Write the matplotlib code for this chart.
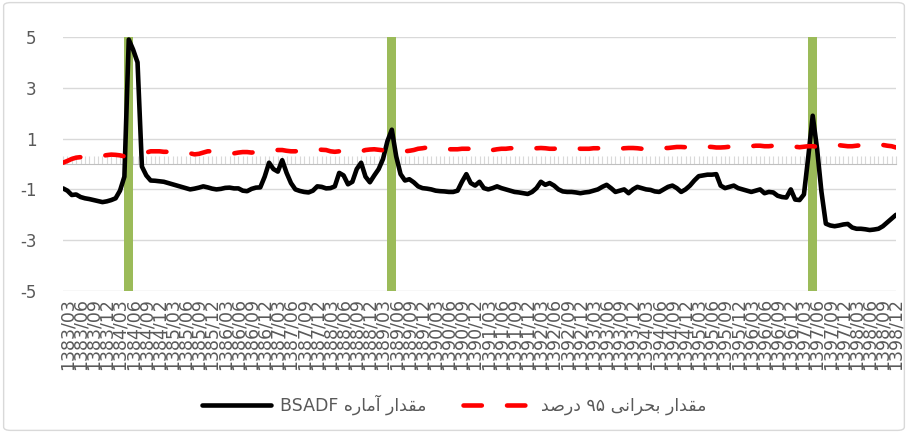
import matplotlib
matplotlib.use('Agg')
import matplotlib.pyplot as plt
from matplotlib.patches import FancyBboxPatch

plt.rcParams['font.family'] = ['DejaVu Sans']
plt.rcParams['axes.unicode_minus'] = False

# monthly categories 1383/02 .. 1398/12
months = []
for year in range(1383, 1399):
    for m in range(1, 13):
        if year == 1383 and m < 2:
            continue
        months.append('%d/%02d' % (year, m))

bsadf = [
    -0.96, -1.05, -1.22, -1.20, -1.30, -1.35, -1.38, -1.42, -1.46, -1.50,
    -1.47, -1.42, -1.35, -1.05, -0.50, 4.90, 4.50, 4.00, -0.10, -0.45,
    -0.65, -0.66, -0.68, -0.70, -0.75, -0.80, -0.85, -0.90, -0.95, -1.00,
    -0.97, -0.93, -0.88, -0.92, -0.97, -1.00, -0.98, -0.94, -0.93, -0.96,
    -0.96, -1.05, -1.07, -0.98, -0.93, -0.92, -0.50, 0.05, -0.20, -0.30,
    0.15, -0.35, -0.75, -1.00, -1.06, -1.10, -1.12, -1.05, -0.88, -0.90,
    -0.96, -0.95, -0.88, -0.35, -0.45, -0.80, -0.70, -0.20, 0.05, -0.50,
    -0.72, -0.45, -0.20, 0.20, 0.90, 1.35, 0.30, -0.40, -0.65, -0.60,
    -0.72, -0.88, -0.95, -0.97, -1.00, -1.05, -1.07, -1.08, -1.10, -1.10,
    -1.05, -0.70, -0.40, -0.75, -0.85, -0.70, -0.95, -1.00, -0.95, -0.88,
    -0.95, -1.00, -1.05, -1.10, -1.12, -1.15, -1.18, -1.10, -0.95, -0.70,
    -0.82, -0.75, -0.85, -1.00, -1.08, -1.10, -1.10, -1.12, -1.15, -1.12,
    -1.10, -1.05, -1.00, -0.90, -0.82, -0.95, -1.10, -1.05, -1.00, -1.15,
    -1.00, -0.90, -0.95, -1.00, -1.02, -1.08, -1.10, -1.00, -0.90, -0.85,
    -0.95, -1.10, -1.00, -0.85, -0.65, -0.48, -0.45, -0.42, -0.42, -0.40,
    -0.85, -0.95, -0.90, -0.85, -0.95, -1.00, -1.05, -1.10, -1.05, -1.00,
    -1.15, -1.10, -1.12, -1.25, -1.30, -1.32, -1.00, -1.40, -1.42, -1.20,
    0.30, 1.90, 0.60, -1.10, -2.35, -2.42, -2.45, -2.42, -2.38, -2.36,
    -2.50, -2.55, -2.55, -2.57, -2.60, -2.58, -2.55, -2.45, -2.30, -2.15,
    -2.00,
]

critical_95 = [
    0.05, 0.12, 0.20, 0.25, 0.27, 0.25, 0.28, 0.30, 0.30, 0.32,
    0.35, 0.37, 0.36, 0.34, 0.30, 0.32, 0.35, 0.37, 0.42, 0.45,
    0.50, 0.50, 0.50, 0.48, 0.48, 0.50, 0.50, 0.48, 0.45, 0.42,
    0.38, 0.40, 0.45, 0.50, 0.50, 0.50, 0.48, 0.45, 0.44, 0.42,
    0.45, 0.47, 0.47, 0.45, 0.47, 0.50, 0.50, 0.52, 0.55, 0.55,
    0.55, 0.52, 0.50, 0.50, 0.52, 0.55, 0.57, 0.58, 0.58, 0.56,
    0.55, 0.50, 0.48, 0.50, 0.52, 0.55, 0.55, 0.53, 0.50, 0.55,
    0.57, 0.58, 0.56, 0.54, 0.52, 0.50, 0.50, 0.48, 0.50, 0.52,
    0.55, 0.60, 0.62, 0.65, 0.62, 0.60, 0.60, 0.60, 0.58, 0.58,
    0.58, 0.60, 0.60, 0.60, 0.55, 0.50, 0.48, 0.52, 0.55, 0.58,
    0.60, 0.60, 0.62, 0.62, 0.60, 0.60, 0.60, 0.60, 0.62, 0.63,
    0.62, 0.60, 0.60, 0.62, 0.63, 0.65, 0.65, 0.62, 0.60, 0.60,
    0.60, 0.62, 0.62, 0.63, 0.65, 0.65, 0.62, 0.60, 0.62, 0.63,
    0.63, 0.62, 0.60, 0.62, 0.63, 0.65, 0.65, 0.63, 0.63, 0.65,
    0.67, 0.67, 0.66, 0.65, 0.65, 0.67, 0.68, 0.68, 0.67, 0.65,
    0.65, 0.66, 0.68, 0.70, 0.70, 0.68, 0.68, 0.70, 0.72, 0.72,
    0.70, 0.70, 0.72, 0.74, 0.74, 0.72, 0.70, 0.68, 0.66, 0.68,
    0.70, 0.70, 0.68, 0.68, 0.70, 0.72, 0.73, 0.74, 0.72, 0.70,
    0.70, 0.72, 0.74, 0.76, 0.78, 0.78, 0.77, 0.75, 0.72, 0.70,
    0.65,
]

crisis_months = ['1384/05', '1389/05', '1397/05']
crisis_top = [5, 5, 5]
crisis_bottom = [-5, -5, -5]

yticks = [-5, -3, -1, 1, 3, 5]

# --- minimal Arabic/Persian shaping (matplotlib has no bidi support) ---
FORMS = {
    'ا': ('\uFE8D', '\uFE8E', None, None),
    'آ': ('\uFE81', '\uFE82', None, None),
    'د': ('\uFEA9', '\uFEAA', None, None),
    'ر': ('\uFEAD', '\uFEAE', None, None),
    'ب': ('\uFE8F', '\uFE90', '\uFE91', '\uFE92'),
    'ح': ('\uFEA1', '\uFEA2', '\uFEA3', '\uFEA4'),
    'ص': ('\uFEB9', '\uFEBA', '\uFEBB', '\uFEBC'),
    'ق': ('\uFED5', '\uFED6', '\uFED7', '\uFED8'),
    'م': ('\uFEE1', '\uFEE2', '\uFEE3', '\uFEE4'),
    'ن': ('\uFEE5', '\uFEE6', '\uFEE7', '\uFEE8'),
    'ه': ('\uFEE9', '\uFEEA', '\uFEEB', '\uFEEC'),
    'ی': ('\uFBFC', '\uFBFD', '\uFBFE', '\uFBFF'),
}


def shape_word(word):
    if not any(ch in FORMS for ch in word):
        return word
    out = []
    for i, ch in enumerate(word):
        f = FORMS[ch]
        prev = i > 0 and FORMS[word[i - 1]][2] is not None
        nxt = i < len(word) - 1 and f[2] is not None
        if prev and nxt:
            out.append(f[3])
        elif prev:
            out.append(f[1])
        elif nxt:
            out.append(f[2])
        else:
            out.append(f[0])
    return ''.join(out)[::-1]


def rtl(text):
    return ' '.join(shape_word(w) for w in text.split()[::-1])


label_bsadf = rtl('مقدار آماره BSADF')
label_crit = rtl('مقدار بحرانی ۹۵ درصد')

n = len(months)
x = list(range(n))
crisis_idx = [months.index(m) for m in crisis_months]

fig = plt.figure(figsize=(9.08, 4.33), dpi=100)
ax = fig.add_axes([63 / 908, 1 - 291 / 433, (896 - 63) / 908, (291 - 37) / 433])

ax.bar(crisis_idx, crisis_top, width=2, color='#9BBB59', zorder=2)
ax.bar(crisis_idx, crisis_bottom, width=2, color='#9BBB59', zorder=2)

ax.plot(x, bsadf, color='black', lw=3.3, solid_joinstyle='round',
        solid_capstyle='round', zorder=4, label=label_bsadf)
ax.plot(x, critical_95, color='#FF0000', lw=3.3, dashes=(4.0, 5.5),
        dash_capstyle='round', zorder=5, label=label_crit)

ax.set_xlim(0, n - 1)
ax.set_ylim(-5, 5)
ax.set_yticks(yticks)
ax.set_yticklabels([str(v) for v in yticks])
ax.grid(axis='y', color='#D9D9D9', lw=1)
ax.set_axisbelow(True)
for s in ['left', 'right', 'top']:
    ax.spines[s].set_visible(False)
ax.spines['bottom'].set_position(('data', 0))
ax.spines['bottom'].set_color('#BFBFBF')
ax.spines['bottom'].set_zorder(1)

ax.tick_params(axis='y', length=0, labelsize=12, labelcolor='#595959', pad=19)
ax.set_xticks(x)
ax.tick_params(axis='x', direction='in', length=6, width=0.8, color='#D9D9D9',
               labelbottom=False)

# category labels at the bottom of the plot area
label_idx = list(range(n - 1, -1, -3))[::-1]
sec = ax.secondary_xaxis('bottom')
sec.set_xticks(label_idx, labels=[months[i] for i in label_idx])
sec.tick_params(length=0, labelrotation=90, labelsize=12.5, labelcolor='#595959', pad=5)
sec.spines['bottom'].set_visible(False)

fig.legend(loc='center', bbox_to_anchor=(0.5, 1 - 405 / 433), ncol=2, frameon=False,
           fontsize=12.5, handlelength=4, handletextpad=0.5, columnspacing=2.1,
           labelcolor='#595959')

fig.patches.append(FancyBboxPatch((0.004, 0.006), 0.992, 0.988,
                                  boxstyle='round,pad=0,rounding_size=0.008',
                                  transform=fig.transFigure, fill=False,
                                  edgecolor='#D9D9D9', lw=1))

fig.savefig('out.png', dpi=100)
